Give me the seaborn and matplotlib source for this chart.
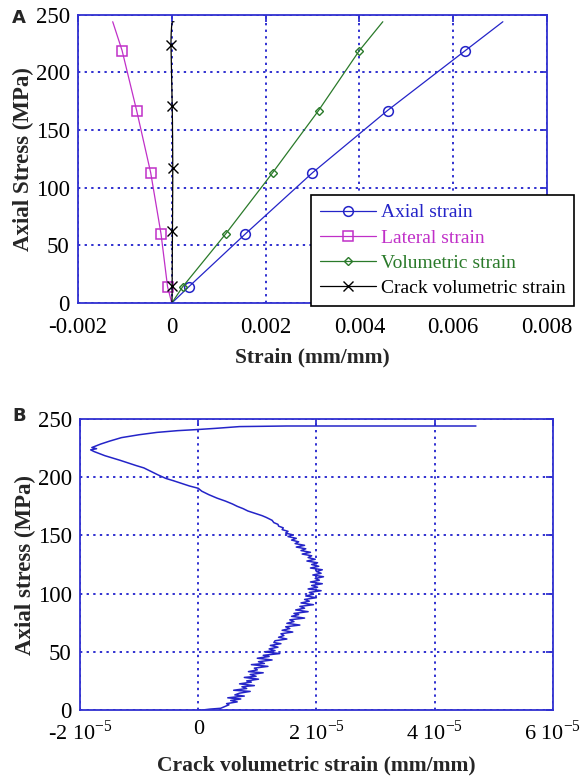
import numpy as np
import seaborn as sns
import matplotlib.pyplot as plt

# stress levels where the strain curves were read (MPa)
stress = [0, 14, 60, 113, 167, 219, 244]
axial = [0, 0.00036, 0.00157, 0.0030, 0.0046, 0.00626, 0.00706]
lateral = [0, -0.00009, -0.00023, -0.00045, -0.00075, -0.00106, -0.00126]
volumetric = [0, 0.00023, 0.00115, 0.00215, 0.00313, 0.0040, 0.0045]

# crack volumetric strain (units of 1e-5), stress (MPa)
crack_pts = [
    (0.07, 0), (0.2, 0.8), (0.38, 1.5), (0.45, 3), (0.52, 4.5), (0.48, 5.5), (0.66, 7),
    (0.55, 8.2), (0.72, 9.5), (0.5, 10.5), (0.78, 12), (0.62, 13), (0.7, 14.5), (0.88, 16),
    (0.6, 17), (0.82, 18.5), (0.74, 20), (0.95, 21), (0.7, 22.5), (0.9, 24), (0.82, 25),
    (1.02, 26.5), (0.78, 28), (0.98, 29), (0.88, 30.5), (1.1, 32), (0.85, 33), (1.0, 34.5),
    (0.95, 36), (1.18, 37.5), (0.9, 39), (1.12, 40), (1.02, 41.5), (1.25, 43), (1.0, 44.5),
    (1.2, 46), (1.1, 47), (1.38, 48.5), (1.12, 50), (1.3, 51), (1.2, 52.5), (1.35, 54),
    (1.22, 55.5), (1.4, 57), (1.28, 58), (1.3, 59.5), (1.5, 61), (1.36, 62.5), (1.45, 64),
    (1.4, 65.5), (1.6, 67), (1.42, 68.5), (1.55, 70), (1.48, 71.5), (1.72, 73), (1.5, 74.5),
    (1.62, 76), (1.55, 77.5), (1.8, 79), (1.58, 80.5), (1.7, 82), (1.62, 83), (1.86, 84.5),
    (1.65, 86), (1.8, 87.5), (1.72, 89), (1.95, 90.5), (1.74, 92), (1.88, 93.5), (1.8, 95),
    (2.0, 96.5), (1.82, 98), (1.95, 99.5), (1.88, 101), (2.08, 102.5), (1.86, 104),
    (2.02, 105.5), (1.92, 107), (2.1, 108.5), (1.9, 110), (2.05, 111.5), (1.98, 113),
    (2.12, 114.5), (1.94, 116), (2.08, 117.5), (2.0, 119), (2.1, 120.5), (1.9, 122),
    (2.04, 123.5), (1.92, 125), (2.02, 126.5), (1.84, 128), (1.98, 129.5), (1.86, 131),
    (1.92, 132.5), (1.76, 134), (1.9, 135.5), (1.74, 137), (1.82, 138.5), (1.66, 140),
    (1.8, 141.5), (1.64, 143), (1.7, 144.5), (1.58, 146), (1.66, 147.5), (1.52, 149),
    (1.6, 150.5), (1.48, 152), (1.52, 153.5), (1.42, 155), (1.44, 156.5), (1.36, 158),
    (1.35, 159.5), (1.28, 161), (1.25, 163), (1.15, 165.5), (1.08, 167), (1.02, 168),
    (0.9, 170), (0.84, 171), (0.76, 173), (0.66, 175), (0.58, 177), (0.46, 179.5),
    (0.32, 182), (0.18, 185), (0.06, 188), (0.0, 190.5), (-0.15, 192.5), (-0.3, 195),
    (-0.42, 197), (-0.55, 199), (-0.68, 202), (-0.8, 205), (-0.92, 208), (-1.05, 210),
    (-1.2, 212.5), (-1.32, 214.5), (-1.45, 216.5), (-1.58, 218.5), (-1.68, 220.5),
    (-1.76, 222), (-1.82, 223.5), (-1.72, 224.5), (-1.8, 225.5), (-1.65, 228.5),
    (-1.5, 231), (-1.3, 234), (-1.0, 236.5), (-0.7, 238.5), (-0.35, 240), (0.0, 241),
    (0.3, 242), (0.7, 243.5), (1.5, 244), (4.7, 244),
]
crack_x = [p[0] * 1e-5 for p in crack_pts]
crack_y = [p[1] for p in crack_pts]
crack_marks = [15, 63, 117, 171, 224]

top_xticks = [-0.002, 0, 0.002, 0.004, 0.006, 0.008]
top_xlabels = ['-0.002', '0', '0.002', '0.004', '0.006', '0.008']
bot_xticks = [-2e-5, 0, 2e-5, 4e-5, 6e-5]
bot_xlabels = [r'-2 10$^{-5}$', '0', r'2 10$^{-5}$', r'4 10$^{-5}$', r'6 10$^{-5}$']
yticks = [0, 50, 100, 150, 200, 250]

sns.set_theme(style='white')
plt.rcParams['font.family'] = ['Liberation Serif', 'DejaVu Serif']
plt.rcParams['mathtext.fontset'] = 'custom'
plt.rcParams['mathtext.rm'] = 'Liberation Serif'
plt.rcParams['axes.unicode_minus'] = False

BLUE = '#2424c8'
MAG = '#c030c8'
GREEN = '#2a7a2a'
SPINE = '#3030d0'

fig = plt.figure(figsize=(5.8, 7.8), dpi=100)
ax1 = fig.add_axes([0.1345, 0.6115, 0.8085, 0.3695])
ax2 = fig.add_axes([0.138, 0.0897, 0.815, 0.3731])


def style_axes(ax, xpad, xsize):
    for s in ax.spines.values():
        s.set_color(SPINE)
        s.set_linewidth(1.3)
    ax.grid(True, color=SPINE, linestyle=(0, (1.2, 2.2)), linewidth=1.4)
    ax.tick_params(direction='in', length=5, width=1.3, color=SPINE, labelsize=16.5,
                   top=True, right=True, labelcolor='black')
    ax.tick_params(axis='y', pad=6)
    ax.tick_params(axis='x', pad=xpad, labelsize=xsize)
    ax.set_axisbelow(True)


mk = [1, 2, 3, 4, 5]
cy = np.array(crack_y)
crack_idx = [int(np.argmin(np.abs(cy - v))) for v in crack_marks]

sns.lineplot(x=axial, y=stress, ax=ax1, sort=False, estimator=None, color=BLUE, lw=0.9,
             marker='o', markersize=7, mfc='none', mec=BLUE, mew=1.1, markevery=mk,
             label='Axial strain', legend=False)
sns.lineplot(x=lateral, y=stress, ax=ax1, sort=False, estimator=None, color=MAG, lw=0.9,
             marker='s', markersize=7, mfc='none', mec=MAG, mew=1.1, markevery=mk,
             label='Lateral strain', legend=False)
sns.lineplot(x=volumetric, y=stress, ax=ax1, sort=False, estimator=None, color=GREEN, lw=0.9,
             marker='D', markersize=4.5, mfc='none', mec=GREEN, mew=1.0, markevery=mk,
             label='Volumetric strain', legend=False)
sns.lineplot(x=crack_x, y=crack_y, ax=ax1, sort=False, estimator=None,
             color='black', lw=0.9, marker='x', markersize=7, mec='black', mew=1.0,
             markevery=crack_idx, label='Crack volumetric strain', legend=False)

style_axes(ax1, 10, 16.5)
ax1.set_xlim(-0.002, 0.008)
ax1.set_ylim(0, 250)
ax1.set_xticks(top_xticks)
ax1.set_xticklabels(top_xlabels)
ax1.set_yticks(yticks)
ax1.set_xlabel('Strain (mm/mm)', fontsize=15.5, fontweight='bold', labelpad=7)
ax1.set_ylabel('Axial Stress (MPa)', fontsize=16.5, fontweight='bold', labelpad=1)

leg = ax1.legend(loc='upper left', bbox_to_anchor=(311 / 580, 1 - 195 / 780),
                 bbox_transform=fig.transFigure, borderaxespad=0, fontsize=14,
                 labelcolor='linecolor', frameon=True, fancybox=False, handlelength=2.9,
                 handletextpad=0.25, labelspacing=0.39, borderpad=0.45)
leg.get_frame().set_edgecolor('black')
leg.get_frame().set_linewidth(1.2)
leg.get_frame().set_alpha(1)

sns.lineplot(x=crack_x, y=crack_y, ax=ax2, sort=False, estimator=None, color=BLUE, lw=1.1)
style_axes(ax2, 7, 16)
ax2.set_xlim(-2e-5, 6e-5)
ax2.set_ylim(0, 250)
ax2.set_xticks(bot_xticks)
ax2.set_xticklabels(bot_xlabels)
ax2.set_yticks(yticks)
ax2.set_xlabel('Crack volumetric strain (mm/mm)', fontsize=15.5, fontweight='bold', labelpad=8)
ax2.set_ylabel('Axial stress (MPa)', fontsize=16.5, fontweight='bold', labelpad=1)

fig.text(12 / 580, 1 - 9 / 780, 'A', fontsize=13, fontweight='bold', family='DejaVu Sans', va='top')
fig.text(12 / 580, 1 - 407 / 780, 'B', fontsize=13, fontweight='bold', family='DejaVu Sans', va='top')

fig.savefig('out.png', dpi=100)
